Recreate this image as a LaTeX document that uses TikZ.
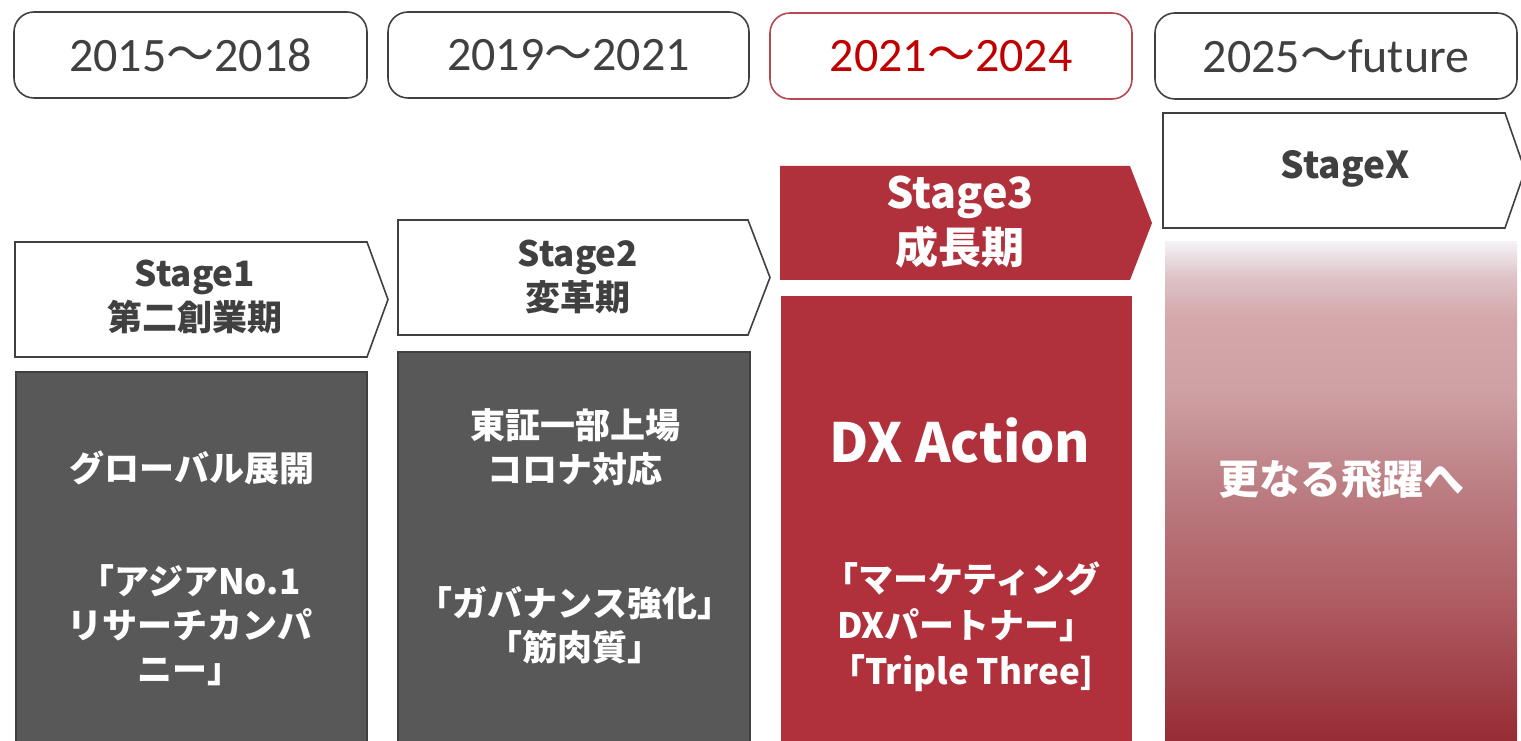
\documentclass[tikz,border=0pt]{standalone}
\usepackage{fontspec}
\setmainfont{Carlito}
\newfontfamily\jp{Noto Sans CJK JP}
\definecolor{dk}{HTML}{404040}
\definecolor{boxgray}{HTML}{585858}
\definecolor{rd}{HTML}{B0313B}
\definecolor{yr}{HTML}{C00000}
\definecolor{yrborder}{HTML}{B8474F}
\definecolor{g0}{RGB}{150,43,51}
\definecolor{g1}{RGB}{174,91,97}
\definecolor{g2}{RGB}{188,127,132}
\definecolor{g3}{RGB}{206,160,163}
\definecolor{g4}{RGB}{212,168,171}
\definecolor{g5}{RGB}{222,195,199}
\definecolor{g6}{RGB}{244,242,246}
\pgfdeclareverticalshading{fadebox}{100bp}{color(0bp)=(g0); color(25bp)=(g0); color(39bp)=(g1); color(51bp)=(g2); color(60bp)=(g3); color(67.5bp)=(g4); color(71.5bp)=(g5); color(75bp)=(g6); color(100bp)=(g6)}
\tikzset{
  yearbox/.style={draw=dk, line width=1.6pt, rounded corners=20pt, minimum height=86pt, inner sep=0pt, text=dk, font=\fontsize{48}{52}\selectfont},
  stagearrow/.style={draw=dk, line width=1.6pt, fill=white, line join=miter},
  stagetext/.style={align=center, text=dk, inner sep=0pt, font=\jp\bfseries\fontsize{35}{44}\selectfont},
  graybox/.style={draw=dk, line width=1.6pt, fill=boxgray},
  boxtext/.style={align=center, text=white, inner sep=0pt, font=\jp\bfseries\fontsize{35}{44}\selectfont}
}
\begin{document}
\begin{tikzpicture}[x=1pt,y=1pt]
\useasboundingbox (0,0) rectangle (1521,740);
% year boxes
\node[yearbox, minimum width=353pt] (y1) at (190.5,685) {2015{\jp ～}2018};
\node[yearbox, minimum width=361pt] (y2) at (568.5,685) {2019{\jp ～}2021};
\node[yearbox, minimum width=362pt, draw=yrborder, text=yr] (y3) at (951,684) {2021{\jp ～}2024};
\node[yearbox, minimum width=362pt] (y4) at (1336,684) {2025{\jp ～}future};
% content boxes
\draw[graybox] (16,-5) rectangle (367,368);
\draw[graybox] (398,-5) rectangle (750,388);
\fill[rd] (781,-5) rectangle (1132,444);
\shade[shading=fadebox] (1165,-5) rectangle (1517,498);
% stage arrows
\draw[stagearrow] (15,498) -- (367,498) -- (388,440.5) -- (367,383) -- (15,383) -- cycle;
\draw[stagearrow] (398,520) -- (748,520) -- (770,462.5) -- (748,405) -- (398,405) -- cycle;
\fill[rd] (780,574) -- (1130,574) -- (1152,517) -- (1130,460) -- (780,460) -- cycle;
\draw[stagearrow] (1163,627) -- (1505,627) -- (1525,569.5) -- (1505,512) -- (1163,512) -- cycle;
\node[stagetext] (s1) at (195,443) {Stage1\\第二創業期};
\node[stagetext] (s2) at (578,463) {Stage2\\変革期};
\node[stagetext, text=white, font=\jp\bfseries\fontsize{43}{55}\selectfont] (s3) at (960,518) {Stage3\\成長期};
\node[stagetext, font=\jp\bfseries\fontsize{37}{44}\selectfont] (sx) at (1345,571) {StageX};
% box texts
\node[boxtext] (b1a) at (192,272) {グローバル展開};
\node[boxtext] (b1b) at (190,115) {「アジアNo.1\\リサーチカンパ\\ニー」};
\node[boxtext] (b2a) at (575,293) {東証一部上場\\コロナ対応};
\node[boxtext] (b2b) at (575,115) {「ガバナンス強化」\\「筋肉質」};
\node[boxtext, font=\jp\bfseries\fontsize{54}{60}\selectfont] (b3a) at (960,300) {DX Action};
\node[boxtext, font=\jp\bfseries\fontsize{35}{46}\selectfont] (b3b) at (962,113) {「マーケティング\\\ DXパートナー」\\「Triple Three]};
\node[boxtext, font=\jp\bfseries\fontsize{41}{46}\selectfont] (b4) at (1341,260) {更なる飛躍へ};
\end{tikzpicture}
\end{document}
